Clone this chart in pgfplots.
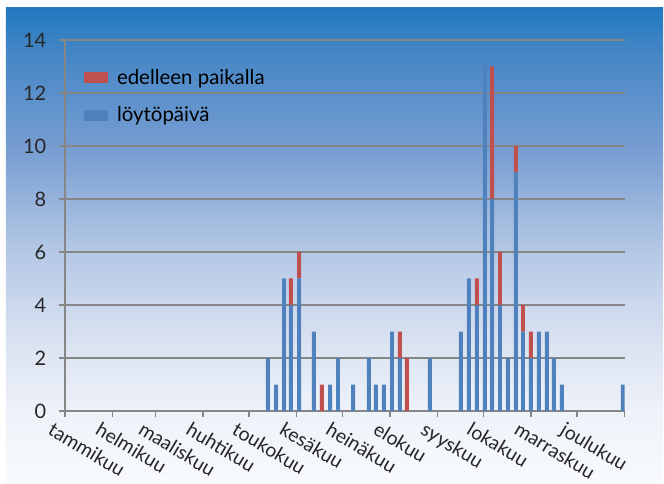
\documentclass[border=0pt]{standalone}
\usepackage{pgfplots}
\pgfplotsset{compat=1.18}
\usepackage{pgfplotstable}
\usepackage{fontspec}
\setmainfont{Lato}
\definecolor{barblue}{RGB}{79,129,189}
\definecolor{barred}{RGB}{192,80,77}
\definecolor{gridgray}{RGB}{134,134,134}
\definecolor{c0}{RGB}{33,120,190}
\definecolor{c1}{RGB}{70,135,198}
\definecolor{c2}{RGB}{120,158,210}
\definecolor{c3}{RGB}{178,198,228}
\definecolor{c4}{RGB}{218,226,241}
\definecolor{c5}{RGB}{238,242,249}
\definecolor{c6}{RGB}{248,250,253}
\pgfdeclareverticalshading{chartbg}{100bp}{color(0bp)=(c6); color(25bp)=(c6); color(32.5bp)=(c5); color(40bp)=(c4); color(50bp)=(c3); color(60bp)=(c2); color(70bp)=(c1); color(75bp)=(c0); color(100bp)=(c0)}

\pgfplotstableread{
day blue red
132.4 2 0
137.7 1 0
142.9 5 0
147.4 4 1
152.7 5 1
162.4 3 0
167.6 0 1
172.9 1 0
178.1 2 0
187.9 1 0
198.3 2 0
202.8 1 0
208.0 1 0
213.3 3 0
218.5 2 1
223.0 0 2
238.0 2 0
258.2 3 0
263.4 5 0
268.7 4 1
273.9 13 0
278.5 8 5
283.7 4 2
288.9 2 0
294.1 9 1
298.7 3 1
303.9 2 1
309.1 3 0
314.3 3 0
318.9 2 0
324.1 1 0
363.8 1 0
}\datatable

\begin{document}
\begin{tikzpicture}
\useasboundingbox (-64.8bp,-73bp) rectangle (599.2bp,411bp);
\fill[white] (-64.8bp,-73bp) rectangle (599.2bp,411bp);
\shade[shading=chartbg] (-58.8bp,-73bp) rectangle (598.2bp,403.5bp);
\begin{axis}[
  at={(0,0)}, anchor=south west,
  scale only axis, width=559.9bp, height=371bp,
  xmin=0, xmax=365, ymin=0, ymax=14,
  ytick={0,2,...,14},
  xtick={0,31,59,90,120,151,181,212,243,273,304,334,365},
  xticklabels={tammikuu,helmikuu,maaliskuu,huhtikuu,toukokuu,kesäkuu,heinäkuu,elokuu,syyskuu,lokakuu,marraskuu,joulukuu,{}},
  axis lines*=left,
  axis line style={gridgray, line width=2bp},
  ymajorgrids, grid style={gridgray, line width=2bp},
  tick style={gridgray, line width=1.5bp},
  major tick length=6bp, tick align=outside,
  /pgf/number format/assume math mode=true,
  yticklabel style={font=\fontsize{20}{24}\selectfont, text=black!85, xshift=-9bp},
  xticklabel style={font=\fontsize{19.5}{23}\selectfont, text=black!85, rotate=-31, anchor=north west, inner sep=0pt, xshift=-7bp, yshift=-9bp},
  ybar stacked, bar width=2.6,
  legend style={at={(axis description cs:0.034,0.927)}, anchor=north west, draw=none, fill=none,
    font=\fontsize{20.5}{24}\selectfont, row sep=17bp, inner sep=0pt, cells={anchor=west}},
  legend image code/.code={\fill[#1] (0bp,-5.5bp) rectangle (24bp,5.5bp); \path (0bp,0bp) -- (31bp,0bp);},
  reverse legend,
]
\addplot[fill=barblue, draw=none] table[x=day, y=blue] {\datatable};
\addlegendentry{löytöpäivä}
\addplot[fill=barred, draw=none] table[x=day, y=red] {\datatable};
\addlegendentry{edelleen paikalla}
\end{axis}
\end{tikzpicture}
\end{document}
